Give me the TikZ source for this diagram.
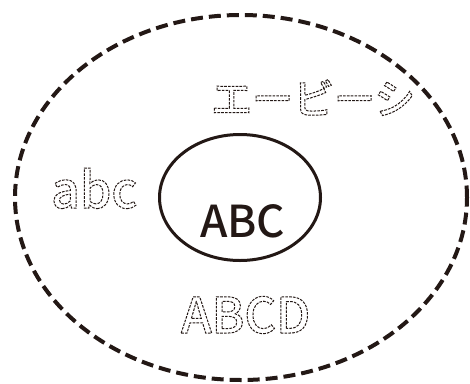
\documentclass[tikz,border=0pt]{standalone}
\usepackage{fontspec}
\setmainfont{Noto Sans CJK JP}
\newfontfamily\medfont{Noto Sans CJK JP Medium}
\usetikzlibrary{shapes.geometric}
\definecolor{ink}{HTML}{231815}
\tikzset{
  outer/.style={draw=ink, line width=4pt, dash pattern=on 12pt off 6pt},
  inner/.style={draw=ink, line width=3pt},
  hollow/.style={inner sep=0pt, text=ink, anchor=base west},
}
\newcommand{\hollowtext}[1]{\special{pdf:literal direct 1 Tr 1 w [2.6 1.2] 0 d}#1\special{pdf:literal direct 0 Tr [] 0 d}}
\begin{document}
\begin{tikzpicture}[x=1pt,y=-1pt]
\useasboundingbox (0,0) rectangle (470,383);
\node[outer, ellipse, minimum width=452pt, minimum height=365pt, inner sep=0pt] (big) at (241,197.5) {};
\node[inner, ellipse, minimum width=161pt, minimum height=126pt, inner sep=0pt] (small) at (240,197.5) {};
\node[inner sep=0pt, text=ink, anchor=base west, font=\medfont\fontsize{44}{44}\selectfont] (abc) at (200,237) {ABC};
\node[hollow, font=\medfont\fontsize{41}{41}\selectfont] (kana) at (211,114) {\hollowtext{エービーシ}};
\node[hollow, font=\medfont\fontsize{50}{50}\selectfont] (lower) at (51,208) {\hollowtext{abc}};
\node[hollow, font=\medfont\fontsize{49}{49}\selectfont] (caps) at (181,333) {\hollowtext{ABCD}};
\end{tikzpicture}
\end{document}
